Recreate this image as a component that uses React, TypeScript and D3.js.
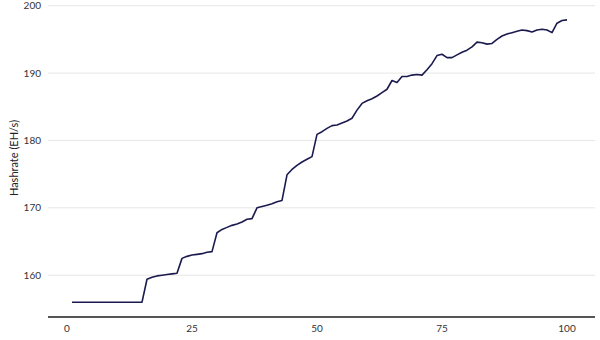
import * as d3 from 'd3';

// daily index and network hashrate (EH/s)
const days = d3.range(1, 101);
const hashrate = [
  156.0, 156.0, 156.0, 156.0, 156.0, 156.0, 156.0, 156.0, 156.0, 156.0,
  156.0, 156.0, 156.0, 156.0, 156.0, 159.4, 159.7, 159.9, 160.0, 160.1,
  160.2, 160.3, 162.5, 162.8, 163.0, 163.1, 163.2, 163.4, 163.5, 166.3,
  166.8, 167.1, 167.4, 167.6, 167.9, 168.3, 168.4, 170.0, 170.2, 170.4,
  170.6, 170.9, 171.1, 174.9, 175.7, 176.3, 176.8, 177.2, 177.6, 180.9,
  181.3, 181.8, 182.2, 182.3, 182.6, 182.9, 183.3, 184.5, 185.5, 185.9,
  186.2, 186.6, 187.1, 187.6, 188.9, 188.6, 189.5, 189.5, 189.7, 189.8,
  189.7, 190.5, 191.4, 192.6, 192.8, 192.3, 192.3, 192.7, 193.1, 193.4,
  193.9, 194.6, 194.5, 194.3, 194.4, 195.0, 195.5, 195.8, 196.0, 196.2,
  196.4, 196.3, 196.1, 196.4, 196.5, 196.4, 196.0, 197.4, 197.8, 197.9,
];
const xTicks = [0, 25, 50, 75, 100];
const yTicks = [160, 170, 180, 190, 200];

const width = 600;
const height = 340;
const font = 'Lato, "Open Sans", sans-serif';

export default function App() {
  const x = d3.scaleLinear().domain([-3.8, 105.6]).range([48, 595]);
  const y = d3.scaleLinear().domain([153.8, 200]).range([317, 5.7]);

  const points = days.map((d, i) => [d, hashrate[i]] as [number, number]);
  const line = d3
    .line<[number, number]>()
    .x((d) => x(d[0]))
    .y((d) => y(d[1]));

  return (
    <svg
      width={width}
      height={height}
      style={{ position: 'absolute', left: 0, top: 0, background: '#fff' }}
      fontFamily={font}
    >
      {/* horizontal grid + y labels */}
      {yTicks.map((t) => (
        <g key={t}>
          <line x1={48} x2={595} y1={y(t)} y2={y(t)} stroke="#e6e6e6" strokeWidth={1} />
          <text
            x={41}
            y={y(t)}
            dy="0.35em"
            textAnchor="end"
            fontSize={10}
            fill="#333"
          >
            {t}
          </text>
        </g>
      ))}

      {/* x axis */}
      <line x1={48} x2={595} y1={317} y2={317} stroke="#555" strokeWidth={2} />
      {xTicks.map((t) => (
        <text
          key={t}
          x={x(t)}
          y={328}
          dy="0.35em"
          textAnchor="middle"
          fontSize={10}
          fill="#333"
        >
          {t}
        </text>
      ))}

      <text
        transform={`translate(14,158) rotate(-90)`}
        textAnchor="middle"
        dy="0.35em"
        fontSize={11}
        fill="#222"
      >
        Hashrate (EH/s)
      </text>

      <path
        d={line(points) ?? ''}
        fill="none"
        stroke="#1b1a4f"
        strokeWidth={1.6}
        strokeLinejoin="round"
      />
    </svg>
  );
}
